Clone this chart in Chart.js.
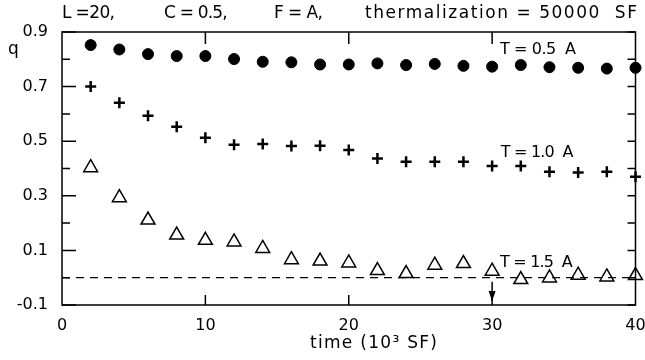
<!DOCTYPE html>
<html>
<head>
<meta charset="utf-8">
<script src="https://cdn.jsdelivr.net/npm/chart.js@4.4.1/dist/chart.umd.min.js"></script>
<style>
  html, body { margin:0; padding:0; background:#fff; }
  canvas { display:block; }
</style>
</head>
<body>
<canvas id="chart" width="645" height="360"></canvas>
<script>
// time in 10^3 SF
const times = [2,4,6,8,10,12,14,16,18,20,22,24,26,28,30,32,34,36,38,40];
const qT05 = [0.852,0.836,0.819,0.812,0.812,0.801,0.791,0.789,0.781,0.781,0.785,0.779,0.783,0.776,0.773,0.779,0.771,0.769,0.766,0.769];
const qT10 = [0.700,0.641,0.593,0.553,0.513,0.487,0.490,0.482,0.483,0.468,0.437,0.425,0.425,0.425,0.409,0.409,0.388,0.385,0.388,0.370];
const qT15 = [0.403,0.293,0.211,0.156,0.137,0.131,0.107,0.066,0.061,0.054,0.026,0.015,0.046,0.052,0.024,-0.007,-0.001,0.009,0.003,0.008];
const xTicks = [0,10,20,30,40];
const yTicks = [-0.1,0.1,0.3,0.5,0.7,0.9];
const yMinorTicks = [0,0.2,0.4,0.6,0.8];
// [text, left px, right px]
const headerParts = [['L =20,', 62, 115], ['C = 0.5,', 164, 222], ['F = A,', 274, 323], ['thermalization = 50000  SF', 365, 637]];
// [text, t value, q value, width px]
const seriesLabels = [['T = 0.5  A', 30.55, 0.834, 76], ['T = 1.0  A', 30.6, 0.456, 69], ['T = 1.5  A', 30.55, 0.056, 66]];
const xTitle = 'time (10³ SF)';

const FONT = '"DejaVu Sans", sans-serif';
const pts = arr => arr.map((v,i) => ({x: times[i], y: v}));

function fitText(ctx, text, left, y, width) {
  ctx.letterSpacing = '0px';
  const w = ctx.measureText(text).width;
  const sp = Math.max(-0.8, (width - w) / (text.length - 1));
  ctx.letterSpacing = sp.toFixed(2) + 'px';
  ctx.fillText(text, left, y);
  ctx.letterSpacing = '0px';
}

const framePlugin = {
  id: 'frame',
  afterDatasetsDraw(chart) {
    const {ctx, chartArea: a, scales: {x, y}} = chart;
    ctx.save();
    ctx.strokeStyle = '#000';
    ctx.fillStyle = '#000';
    ctx.lineWidth = 1.5;
    ctx.strokeRect(a.left, a.top, a.right - a.left, a.bottom - a.top);
    ctx.beginPath();
    yTicks.forEach(v => { const p = y.getPixelForValue(v); ctx.moveTo(a.left, p); ctx.lineTo(a.left + 14, p); });
    yMinorTicks.forEach(v => { const p = y.getPixelForValue(v); ctx.moveTo(a.left, p); ctx.lineTo(a.left + 8, p); });
    yTicks.concat(yMinorTicks).forEach(v => { const p = y.getPixelForValue(v); ctx.moveTo(a.right, p); ctx.lineTo(a.right - 8, p); });
    [10,20,30].forEach(v => {
      const p = x.getPixelForValue(v);
      ctx.moveTo(p, a.top); ctx.lineTo(p, a.top + 12);
      ctx.moveTo(p, a.bottom); ctx.lineTo(p, a.bottom - 10);
    });
    ctx.stroke();

    // arrow at t = 30
    const ax = x.getPixelForValue(30), y0 = y.getPixelForValue(0) + 4, y1 = y.getPixelForValue(-0.085);
    ctx.beginPath(); ctx.moveTo(ax, y0); ctx.lineTo(ax, y1); ctx.stroke();
    ctx.beginPath(); ctx.moveTo(ax - 3.5, y1 - 10); ctx.lineTo(ax + 3.5, y1 - 10); ctx.lineTo(ax, y1); ctx.closePath(); ctx.fill();

    ctx.textBaseline = 'middle';
    ctx.font = '16px ' + FONT;
    seriesLabels.forEach(([t, vx, vy, w]) => fitText(ctx, t, x.getPixelForValue(vx), y.getPixelForValue(vy), w));
    ctx.font = '17px ' + FONT;
    headerParts.forEach(([t, l, r]) => fitText(ctx, t, l, 14, r - l));
    fitText(ctx, xTitle, 310, 344, 127);
    ctx.textBaseline = 'alphabetic';
    ctx.fillText('q', 8, 54);
    ctx.restore();
  }
};

new Chart(document.getElementById('chart'), {
  type: 'scatter',
  data: {
    datasets: [
      { data: [{x:0,y:0},{x:40,y:0}], showLine: true, borderColor:'#000', borderWidth:1.3, borderDash:[8,6], pointRadius:0 },
      { data: pts(qT05), pointStyle:'circle', pointRadius:5.5, backgroundColor:'#000', borderColor:'#000', clip:false },
      { data: pts(qT10), pointStyle:'cross', pointRadius:5.5, borderWidth:2.5, borderColor:'#000', clip:false },
      { data: pts(qT15), pointStyle:'triangle', pointRadius:8, borderWidth:1.5, borderColor:'#000', backgroundColor:'rgba(0,0,0,0)', clip:false }
    ]
  },
  options: {
    responsive:false, animation:false, devicePixelRatio:1,
    layout:{ padding:{ left:12, right:7, top:32, bottom:0 } },
    plugins:{ legend:{display:false}, tooltip:{enabled:false} },
    scales:{
      x:{
        type:'linear', min:0, max:40,
        afterBuildTicks: s => { s.ticks = xTicks.map(v => ({value:v})); },
        afterFit: s => { s.height = 55; s.paddingLeft = 0; s.paddingRight = 0; },
        grid:{ display:false, drawTicks:false }, border:{ display:false },
        ticks:{ color:'#000', font:{ family:FONT, size:16 }, padding:11, maxRotation:0 }
      },
      y:{
        type:'linear', min:-0.1, max:0.9,
        afterBuildTicks: s => { s.ticks = yTicks.map(v => ({value:v})); },
        afterFit: s => { s.width = 50; s.paddingTop = 0; s.paddingBottom = 0; },
        grid:{ display:false, drawTicks:false }, border:{ display:false },
        ticks:{ color:'#000', font:{ family:FONT, size:16 }, padding:14, callback: v => v.toFixed(1) }
      }
    }
  },
  plugins:[framePlugin]
});
</script>
</body>
</html>
